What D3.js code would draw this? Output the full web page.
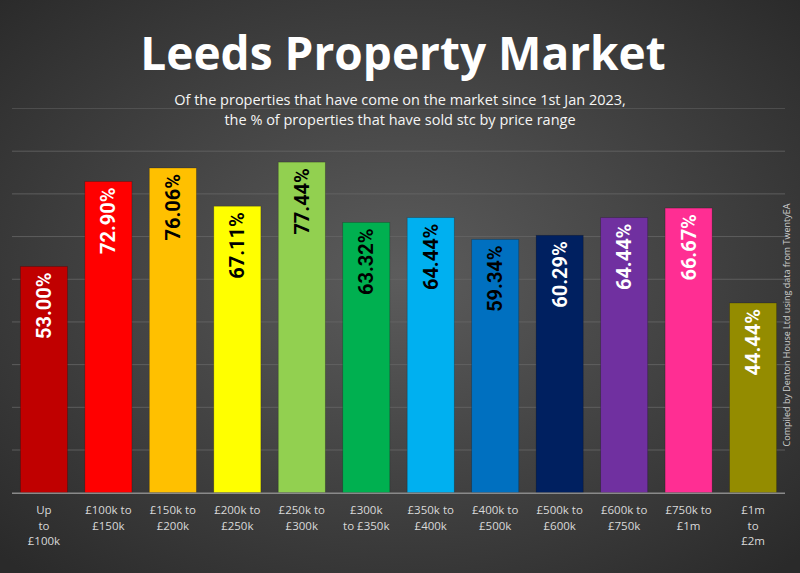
<!DOCTYPE html>
<html><head><meta charset="utf-8">
<script src="https://cdn.jsdelivr.net/npm/d3@7/dist/d3.min.js"></script>
<style>html,body{margin:0;padding:0;background:#333;}svg{display:block;}</style>
</head><body>
<script>
const categories = [["Up","to","£100k"],["£100k to","£150k"],["£150k to","£200k"],["£200k to","£250k"],["£250k to","£300k"],["£300k","to £350k"],["£350k to","£400k"],["£400k to","£500k"],["£500k to","£600k"],["£600k to","£750k"],["£750k to","£1m"],["£1m","to","£2m"]];
const values = [53.00,72.90,76.06,67.11,77.44,63.32,64.44,59.34,60.29,64.44,66.67,44.44];
const barColors = ["#C00000","#FF0000","#FFC000","#FFFF00","#92D050","#00B050","#00B0F0","#0070C0","#002060","#7030A0","#FF2E93","#948C00"];
const labelColors = ["#fff","#fff","#000","#000","#000","#000","#000","#000","#fff","#fff","#fff","#fff"];
const gridTicks = [10,20,30,40,50,60,70,80,90];
const title = "Leeds Property Market";
const subtitle = ["Of the properties that have come on the market since 1st Jan 2023,","the % of properties that have sold stc by price range"];
const credit = "Compiled by Denton House Ltd using data from TwentyEA";

(function(){
const W=800,H=573;
const svg=d3.select("body").append("svg").attr("width",W).attr("height",H);
const defs=svg.append("defs");
const rg=defs.append("radialGradient").attr("id","bg").attr("cx","50%").attr("cy","48%").attr("r","70%");
rg.append("stop").attr("offset","0%").attr("stop-color","#5c5c5c");
rg.append("stop").attr("offset","100%").attr("stop-color","#2a2a2a");
svg.append("rect").attr("width",W).attr("height",H).attr("fill","url(#bg)");

const pL=12,pR=785,pT=108.5,pB=492.7;
const x=d3.scaleBand().domain(d3.range(values.length)).range([pL,pR]).paddingInner(0.27).paddingOuter(0.13);
const y=d3.scaleLinear().domain([0,90]).range([pB,pT]);

svg.append("g").selectAll("line").data(gridTicks).join("line")
  .attr("x1",pL).attr("x2",pR).attr("y1",d=>y(d)).attr("y2",d=>y(d))
  .attr("stroke","#666").attr("stroke-opacity",d=>d===90?0.5:0.8).attr("stroke-width",1);

svg.append("g").selectAll("rect").data(values).join("rect")
  .attr("x",(d,i)=>x(i)).attr("width",x.bandwidth())
  .attr("y",d=>y(d)).attr("height",d=>pB-y(d))
  .attr("fill",(d,i)=>barColors[i])
  .attr("stroke","rgba(0,0,0,0.25)").attr("stroke-width",0.8);

svg.append("line").attr("x1",pL).attr("x2",pR).attr("y1",pB+0.5).attr("y2",pB+0.5)
  .attr("stroke","#8a8a8a").attr("stroke-width",1.5);

svg.append("g").selectAll("text").data(values).join("text")
  .attr("transform",(d,i)=>`translate(${x(i)+x.bandwidth()/2+7},${y(d)+6}) rotate(-90)`)
  .attr("text-anchor","end")
  .attr("font-family","Roboto, sans-serif").attr("font-weight","bold").attr("font-size",20)
  .attr("fill",(d,i)=>labelColors[i])
  .text(d=>d.toFixed(2)+"%");

const cat=svg.append("g").selectAll("text").data(categories).join("text")
  .attr("text-anchor","middle")
  .attr("font-family","'Open Sans', sans-serif").attr("font-size",11.5)
  .attr("fill","#d9d9d9");
cat.each(function(lines,i){
  d3.select(this).selectAll("tspan").data(lines).join("tspan")
    .attr("x",x(i)+x.bandwidth()/2).attr("y",(l,j)=>514+j*15.5).text(l=>l);
});

svg.append("text").attr("x",403).attr("y",70).attr("text-anchor","middle")
  .attr("font-family","'Open Sans', sans-serif").attr("font-weight","bold").attr("font-size",46)
  .attr("fill","#fff").text(title);
svg.append("g").selectAll("text").data(subtitle).join("text")
  .attr("x",400).attr("y",(d,i)=>105+i*19.5).attr("text-anchor","middle")
  .attr("font-family","'Open Sans', sans-serif").attr("font-size",14.5)
  .attr("fill","#f5f5f5").text(d=>d);

svg.append("text").attr("transform","translate(790,325) rotate(-90)").attr("text-anchor","middle")
  .attr("font-family","'Open Sans', sans-serif").attr("font-size",9)
  .attr("fill","#cfcfcf").text(credit);
})();
</script>
</body></html>
